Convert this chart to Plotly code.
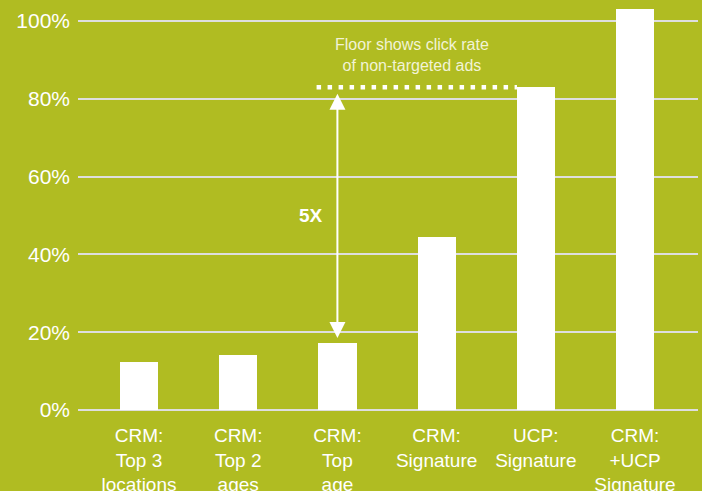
import plotly.graph_objects as go

categories = ["CRM:<br>Top 3<br>locations", "CRM:<br>Top 2<br>ages", "CRM:<br>Top<br>age",
              "CRM:<br>Signature", "UCP:<br>Signature", "CRM:<br>+UCP<br>Signature"]
values = [12.3, 14.1, 17.2, 44.5, 83.0, 103.0]
tick_vals = [0, 20, 40, 60, 80, 100]
tick_text = ["0%", "20%", "40%", "60%", "80%", "100%"]
floor_value = 83.0
lift_label = "5X"
floor_note = "Floor shows click rate<br>of non-targeted ads"

BG = "#b0bc22"
GRID = "#dedede"
FONT = "Liberation Sans, Arial, Helvetica, sans-serif"

x_idx = list(range(len(categories)))

fig = go.Figure()
fig.add_trace(go.Bar(x=x_idx, y=values, width=0.385, marker=dict(color="white", line=dict(width=0)),
                     hoverinfo="skip"))

# dotted floor line
fig.add_shape(type="line", xref="x", yref="y", x0=1.79, x1=3.81, y0=floor_value, y1=floor_value,
              line=dict(color="white", width=4.5, dash="4.5px,6.5px"))

# double headed arrow
fig.add_annotation(x=2, y=values[2] + 1.3, ax=2, ay=floor_value - 1.3, xref="x", yref="y",
                   axref="x", ayref="y", text="", showarrow=True, arrowhead=2, startarrowhead=2,
                   arrowside="end+start", arrowsize=1.6, arrowwidth=2, arrowcolor="white",
                   standoff=0, startstandoff=0)
fig.add_annotation(x=1.73, y=50, xref="x", yref="y", text="<b>" + lift_label + "</b>", showarrow=False,
                   font=dict(family=FONT, size=19, color="white"))
fig.add_annotation(x=2.75, y=91.2, xref="x", yref="y", text=floor_note, showarrow=False,
                   font=dict(family=FONT, size=16, color="#f2f3d6"))

fig.update_layout(
    width=702, height=491,
    margin=dict(l=78, r=4, t=0, b=81),
    paper_bgcolor=BG, plot_bgcolor=BG,
    showlegend=False,
    bargap=0,
    xaxis=dict(range=[-0.615, 5.635], tickvals=x_idx, ticktext=categories, showgrid=False,
               zeroline=False, showline=False, ticks="", ticklabelstandoff=12, automargin=False,
               tickfont=dict(family=FONT, size=19, color="white"), fixedrange=True),
    yaxis=dict(range=[0, 105.4], tickvals=tick_vals, ticktext=tick_text, showgrid=True,
               gridcolor=GRID, gridwidth=2, zeroline=True, zerolinecolor=GRID, zerolinewidth=2,
               showline=False, ticks="", ticklabelstandoff=7, automargin=False,
               tickfont=dict(family=FONT, size=21, color="white"), fixedrange=True),
)

fig.write_html("out.html")
